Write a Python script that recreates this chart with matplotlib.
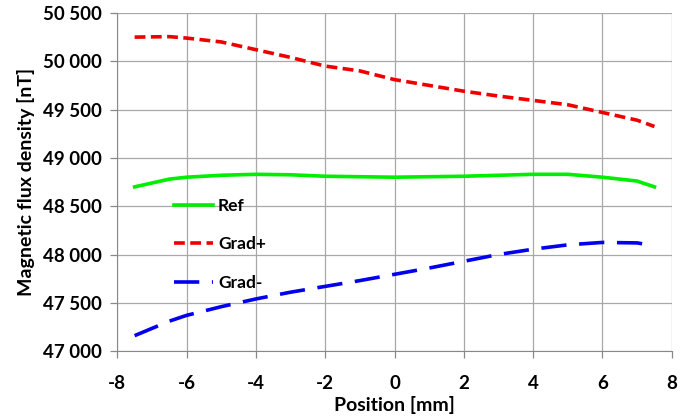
import numpy as np
import matplotlib.pyplot as plt
from matplotlib.ticker import FuncFormatter

plt.rcParams['font.family'] = ['Lato', 'DejaVu Sans']
plt.rcParams['axes.unicode_minus'] = False

# Data
pos = [-7.5, -6.5, -6, -5, -4, -3, -2, -1, 0, 1, 2, 3, 4, 5, 6, 7, 7.5]
ref = [48700, 48780, 48800, 48820, 48830, 48825, 48810, 48805, 48800, 48805,
       48810, 48820, 48830, 48830, 48800, 48760, 48700]
grad_plus = [50250, 50255, 50240, 50200, 50120, 50040, 49950, 49900, 49810,
             49750, 49690, 49640, 49595, 49550, 49470, 49390, 49325]
grad_minus = [47160, 47310, 47370, 47460, 47540, 47610, 47670, 47730, 47795,
              47860, 47930, 48000, 48055, 48100, 48125, 48120, 48090]

fig = plt.figure(figsize=(6.94, 4.18), dpi=100)
ax = fig.add_axes([0.169, 0.160, 0.799, 0.809])

ax.plot(pos, ref, color='#00ee00', lw=2.6, label='Ref')
ax.plot(pos, grad_plus, color='#ee0000', lw=2.6, dashes=(3, 1.5), label='Grad+')
ax.plot(pos, grad_minus, color='#0000ee', lw=2.6, dashes=(7, 3.5), label='Grad-')

ax.set_xlim(-8, 8)
ax.set_ylim(47000, 50500)
ax.set_xticks(np.arange(-8, 9, 2))
ax.set_yticks(np.arange(47000, 50501, 500))
ax.yaxis.set_major_formatter(FuncFormatter(lambda v, p: f'{int(v):,}'.replace(',', ' ')))
ax.grid(True, color='#a8a8a8', lw=0.9)
ax.set_axisbelow(True)
for s in ['top', 'right']:
    ax.spines[s].set_visible(False)
for s in ['left', 'bottom']:
    ax.spines[s].set_color('#888888')
ax.tick_params(colors='#888888', labelcolor='black', labelsize=13.5, length=5, width=0.9)
ax.tick_params(axis='x', pad=12)
ax.tick_params(axis='y', pad=6)
for lbl in ax.get_xticklabels() + ax.get_yticklabels():
    lbl.set_fontweight('bold')

ax.set_xlabel('Position [mm]', fontsize=14, fontweight='bold', labelpad=3)
ax.set_ylabel('Magnetic flux density [nT]', fontsize=14, fontweight='bold', labelpad=6)

leg = ax.legend(loc='upper left', bbox_to_anchor=(0.075, 0.5), frameon=False,
                prop={'weight': 'bold', 'size': 12.5}, handlelength=2.2,
                handletextpad=0.3, labelspacing=1.3)

fig.savefig('out.png', dpi=100)
